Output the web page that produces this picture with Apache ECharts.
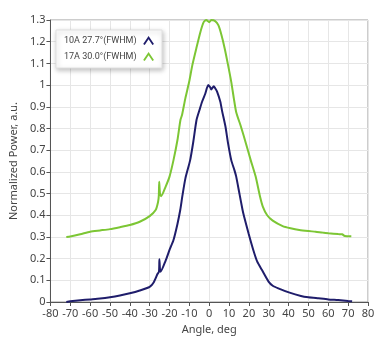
<!DOCTYPE html>
<html><head><meta charset="utf-8">
<script src="https://cdn.jsdelivr.net/npm/echarts@6/dist/echarts.min.js"></script>
<style>html,body{margin:0;padding:0;background:#fff}#c{width:386px;height:355px}</style>
</head><body><div id="c"></div>
<script>
const seriesNames = ['10A 27.7°(FWHM)', '17A 30.0°(FWHM)'];
const blueAngles = [-72,-70,-65,-60,-55,-50,-45,-40,-35,-30,-28,-26,-25.3,-25.1,-24.8,-24.5,-22,-20,-18,-16,-14.6,-13.5,-12,-9.6,-8,-6.4,-4.9,-3.6,-2,-0.5,0.5,1,2.3,3,4,5.6,6.5,8.2,9.5,11.1,12.7,13.6,15.2,16.8,17.6,19.8,22.2,24.2,26.6,29.9,32,34.8,40.5,46.2,50,55,60,65,70,72];
const blueValues = [0,0.003,0.008,0.012,0.016,0.022,0.03,0.04,0.053,0.07,0.09,0.13,0.14,0.197,0.15,0.14,0.19,0.24,0.286,0.36,0.424,0.49,0.57,0.654,0.74,0.839,0.885,0.923,0.96,1.0,0.99,0.98,0.995,0.985,0.969,0.923,0.88,0.808,0.731,0.654,0.608,0.578,0.501,0.424,0.393,0.317,0.24,0.186,0.147,0.094,0.075,0.063,0.043,0.028,0.022,0.017,0.012,0.009,0.005,0.004];
const greenAngles = [-72,-70,-65,-60,-55,-50,-45,-40,-35,-30,-27,-25.8,-25.4,-25.2,-24.8,-24.2,-22,-20,-18,-16,-14.5,-13.7,-12,-10.1,-8.5,-6.5,-4.4,-2.8,-1.5,0,1,3,4.6,6.2,7.8,9.5,11.1,12.4,13.6,16,18.5,20.9,23.4,25.5,27,29.2,32,37,41,45.4,50,53.6,57,60.1,65,67,68.3,71.6];
const greenValues = [0.3,0.302,0.312,0.324,0.33,0.336,0.345,0.355,0.37,0.396,0.424,0.46,0.49,0.554,0.5,0.488,0.531,0.578,0.654,0.747,0.839,0.862,0.94,1.015,1.092,1.169,1.246,1.29,1.3,1.29,1.3,1.295,1.276,1.23,1.169,1.092,1.015,0.939,0.875,0.808,0.731,0.654,0.578,0.49,0.44,0.4,0.375,0.35,0.34,0.332,0.327,0.324,0.32,0.317,0.313,0.312,0.304,0.303];
const xMin = -80, xMax = 80, xStep = 10;
const yMin = 0, yMax = 1.3, yStep = 0.1;

const pair = (a, b) => a.map((x, i) => [x, b[i]]);
const chev = 'path://M0,9 L6,0 L12,9 L10.3,10 L6,3.6 L1.7,10 Z';
const chart = echarts.init(document.getElementById('c'), null, {renderer: 'canvas'});
const font = 'Noto Sans';
chart.setOption({
  animation: false,
  grid: {left: 41, right: 18, top: 20, bottom: 53, show: true, borderColor: '#9a9a9a', borderWidth: 1},
  legend: {
    orient: 'vertical', left: 56, top: 30, align: 'right',
    padding: [6, 8, 7, 8], itemGap: 7, itemWidth: 14, itemHeight: 9,
    backgroundColor: '#fff', borderColor: '#e0e0e0', borderWidth: 1,
    shadowColor: 'rgba(0,0,0,0.25)', shadowBlur: 5, shadowOffsetX: 1, shadowOffsetY: 2,
    textStyle: {fontFamily: 'Roboto', fontSize: 9, color: '#444'},
    data: [{name: seriesNames[0], icon: chev}, {name: seriesNames[1], icon: chev}]
  },
  xAxis: {
    type: 'value', min: xMin, max: xMax, interval: xStep,
    name: 'Angle, deg', nameLocation: 'middle', nameGap: 22,
    nameTextStyle: {fontFamily: font, fontSize: 11, color: '#444'},
    axisLine: {show: true, onZero: false, lineStyle: {color: '#555', width: 1}},
    axisTick: {show: true, length: 4, lineStyle: {color: '#555'}},
    axisLabel: {fontFamily: font, fontSize: 11, color: '#444', margin: 6},
    splitLine: {show: true, lineStyle: {color: '#e6e6e6', width: 1}}
  },
  yAxis: {
    type: 'value', min: yMin, max: yMax, interval: yStep,
    name: 'Normalized Power, a.u.', nameLocation: 'middle', nameGap: 29,
    nameTextStyle: {fontFamily: font, fontSize: 11, color: '#444'},
    axisLine: {show: true, onZero: false, lineStyle: {color: '#555', width: 1}},
    axisTick: {show: true, length: 4, lineStyle: {color: '#555'}},
    axisLabel: {fontFamily: font, fontSize: 11, color: '#444', margin: 5},
    splitLine: {show: true, lineStyle: {color: '#e6e6e6', width: 1}}
  },
  series: [
    {name: seriesNames[0], type: 'line', data: pair(blueAngles, blueValues), showSymbol: false,
     color: '#1f1d6b', lineStyle: {color: '#1f1d6b', width: 2}, smooth: 0.2},
    {name: seriesNames[1], type: 'line', data: pair(greenAngles, greenValues), showSymbol: false,
     color: '#7cc634', lineStyle: {color: '#7cc634', width: 2}, smooth: 0.2}
  ]
});
</script></body></html>
